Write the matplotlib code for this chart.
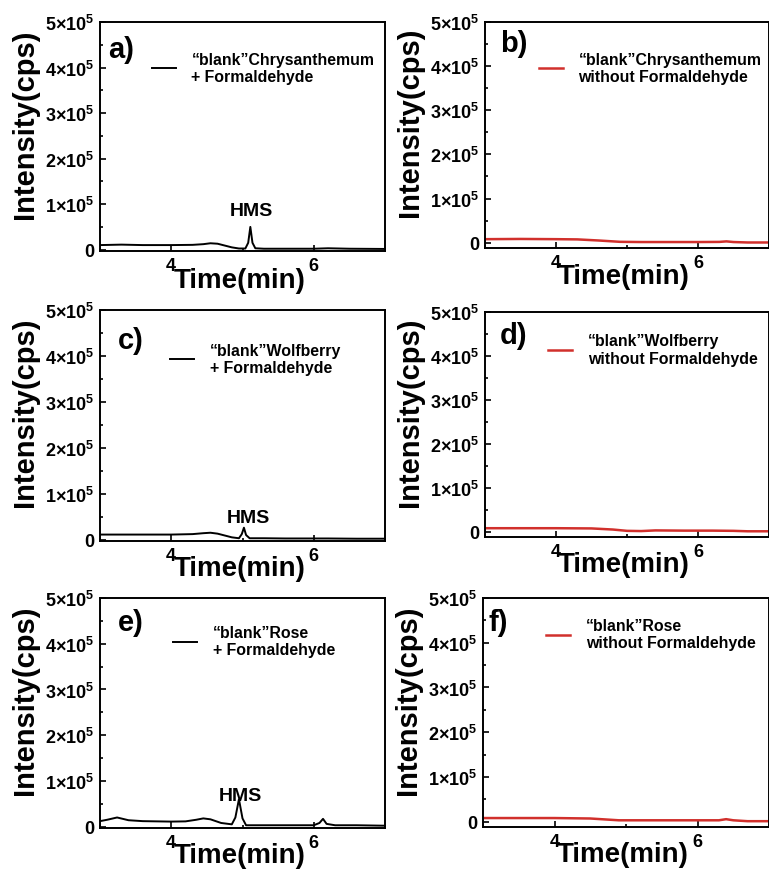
import matplotlib
matplotlib.use('Agg')
import matplotlib.pyplot as plt
from matplotlib.ticker import MultipleLocator, FixedLocator, FixedFormatter

plt.rcParams['font.family'] = ['Liberation Sans', 'DejaVu Sans']
plt.rcParams['font.weight'] = 'bold'
plt.rcParams['mathtext.default'] = 'regular'

# chromatogram traces (time in min, intensity in cps)
t_a = [3.0, 3.3, 3.6, 4.0, 4.3, 4.45, 4.55, 4.65, 4.75, 4.85, 4.95, 5.04, 5.08, 5.11, 5.14, 5.18, 5.3, 5.6, 6.0, 6.2, 6.5, 7.0]
y_a = [10000, 11000, 10000, 10000, 10500, 12000, 14000, 13000, 9000, 5000, 2500, 2500, 15000, 50000, 15000, 3000, 2000, 2000, 2000, 3000, 2000, 1500]

t_b = [3.0, 3.5, 4.0, 4.3, 4.6, 4.9, 5.2, 5.6, 6.0, 6.3, 6.4, 6.5, 6.7, 7.0]
y_b = [8000, 8500, 8000, 7500, 5000, 2000, 1500, 1500, 1500, 1800, 3000, 1500, 500, 500]

t_c = [3.0, 3.5, 4.0, 4.3, 4.45, 4.55, 4.65, 4.75, 4.85, 4.95, 4.99, 5.02, 5.05, 5.1, 5.3, 5.6, 5.9, 6.2, 6.6, 7.0]
y_c = [11000, 11000, 11000, 12000, 14000, 15000, 13000, 9000, 5000, 3000, 12000, 26000, 10000, 3000, 3000, 2500, 2500, 2500, 2000, 2000]

t_d = [3.0, 3.5, 4.0, 4.5, 4.8, 5.0, 5.2, 5.4, 5.8, 6.2, 6.5, 6.7, 7.0]
y_d = [8000, 8000, 8000, 7500, 5000, 2000, 1500, 3000, 2500, 2500, 2000, 1000, 1000]

t_e = [3.0, 3.1, 3.24, 3.4, 3.6, 4.0, 4.2, 4.35, 4.45, 4.55, 4.7, 4.85, 4.9, 4.95, 5.0, 5.05, 5.2, 5.6, 6.0, 6.08, 6.13, 6.18, 6.3, 6.6, 7.0]
y_e = [12000, 15000, 20000, 14000, 12000, 11000, 11500, 15000, 18000, 16000, 8000, 5000, 20000, 60000, 18000, 3000, 3000, 3000, 3000, 8000, 17000, 6000, 3000, 3000, 2000]

t_f = [3.0, 3.5, 4.0, 4.5, 4.7, 4.9, 5.3, 5.8, 6.3, 6.4, 6.5, 6.7, 7.0]
y_f = [8000, 8000, 8000, 7000, 5000, 3000, 3000, 3000, 3000, 5500, 3000, 1000, 1000]

labels = ['\u201cblank\u201dChrysanthemum\n+ Formaldehyde',
          '\u201cblank\u201dChrysanthemum\nwithout Formaldehyde',
          '\u201cblank\u201dWolfberry\n+ Formaldehyde',
          '\u201cblank\u201dWolfberry\nwithout Formaldehyde',
          '\u201cblank\u201dRose\n+ Formaldehyde',
          '\u201cblank\u201dRose\nwithout Formaldehyde']
letters = ['a)', 'b)', 'c)', 'd)', 'e)', 'f)']
yticks = [0, 100000, 200000, 300000, 400000, 500000]
ytick_labels = ['0', r'1$\times$10$^5$', r'2$\times$10$^5$', r'3$\times$10$^5$', r'4$\times$10$^5$', r'5$\times$10$^5$']

# HMS annotation positions (time, intensity) for the formaldehyde panels
hms = {0: (5.13, 87000), 2: (5.08, 48000), 4: (4.97, 67000)}

traces = [(t_a, y_a), (t_b, y_b), (t_c, y_c), (t_d, y_d), (t_e, y_e), (t_f, y_f)]
colors = ['black', '#d1302c', 'black', '#d1302c', 'black', '#d1302c']

# axes rectangles in pixels (left, top, right, bottom)
W, H = 769.0, 879.0
boxes = [(100, 23, 385, 252), (485, 23, 769, 249),
         (100, 311, 385, 542), (485, 313, 769, 538),
         (100, 599, 385, 829), (483, 599, 769, 828)]
legend_anchor = [(0.182, 0.87), (0.19, 0.868), (0.246, 0.858),
                 (0.222, 0.905), (0.256, 0.883), (0.222, 0.913)]
letter_pos = [(0.03, 0.88), (0.053, 0.905), (0.063, 0.87),
              (0.053, 0.90), (0.063, 0.895), (0.02, 0.895)]
xlabel_y = [-0.068, -0.068, -0.06, -0.06, -0.06, -0.06]

fig = plt.figure(figsize=(W / 100, H / 100), dpi=100)

for i in range(6):
    x0, y0, x1, y1 = boxes[i]
    ax = fig.add_axes([x0 / W, 1 - y1 / H, (x1 - x0) / W, (y1 - y0) / H])
    t, y = traces[i]
    lw = 1.4 if colors[i] == 'black' else 1.8
    ax.plot(t, y, color=colors[i], lw=lw, label=labels[i])

    ax.set_xlim(3, 7)
    if i % 2 == 0:
        ax.set_ylim(-3000, 500000)
    else:
        ax.set_ylim(-12000, 500000)

    ax.xaxis.set_major_locator(FixedLocator([4, 6]))
    ax.xaxis.set_minor_locator(MultipleLocator(1))
    ax.yaxis.set_major_locator(FixedLocator(yticks))
    ax.yaxis.set_major_formatter(FixedFormatter(ytick_labels))
    ax.yaxis.set_minor_locator(MultipleLocator(50000))
    ax.tick_params(which='both', direction='in', width=1.2)
    ax.tick_params(which='major', length=4, labelsize=13, pad=4)
    ax.tick_params(which='minor', length=2.5)
    for lab in ax.get_xticklabels() + ax.get_yticklabels():
        lab.set_fontweight('bold')
    for sp in ax.spines.values():
        sp.set_linewidth(1.4)

    ax.set_xlabel('Time(min)', fontsize=20, fontweight='bold', va='top')
    ax.xaxis.set_label_coords(0.49, xlabel_y[i])
    ax.set_ylabel('Intensity(cps)', fontsize=21, fontweight='bold', va='bottom')
    ax.yaxis.set_label_coords(-0.215, 0.56)

    ax.text(letter_pos[i][0], letter_pos[i][1], letters[i], transform=ax.transAxes,
            fontsize=21, fontweight='bold', va='center', ha='left')

    ax.legend(loc='upper left', bbox_to_anchor=legend_anchor[i], frameon=False,
              handlelength=1.5, handletextpad=1.0, labelspacing=0.3,
              borderpad=0, borderaxespad=0, prop={'weight': 'bold', 'size': 11.4})

    if i in hms:
        ax.text(hms[i][0], hms[i][1], 'HMS', fontsize=14, fontweight='bold',
                ha='center', va='center')

fig.savefig('out.png', dpi=100)
